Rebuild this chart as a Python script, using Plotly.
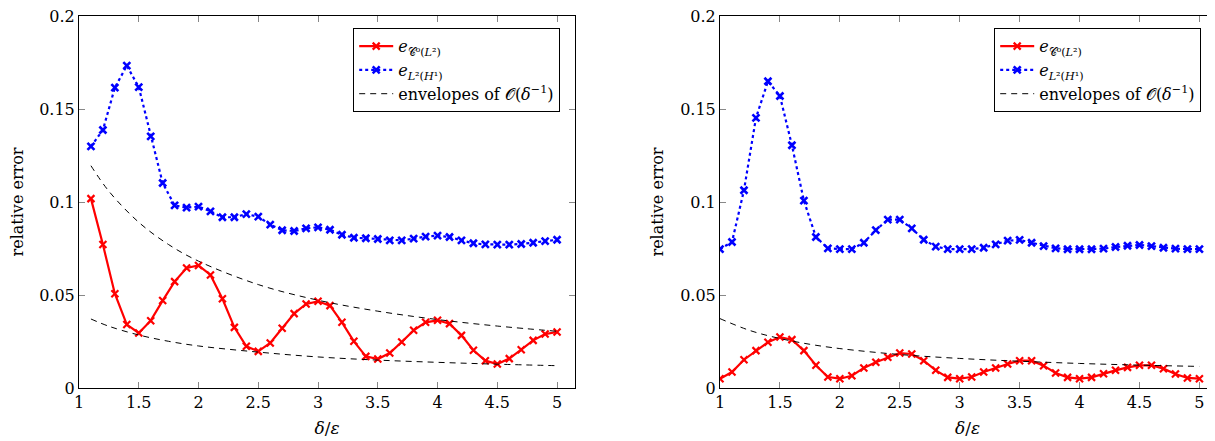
import plotly.graph_objects as go

# ---------------- data ----------------
x_left = [1.1, 1.2, 1.3, 1.4, 1.5, 1.6, 1.7, 1.8, 1.9, 2.0,
          2.1, 2.2, 2.3, 2.4, 2.5, 2.6, 2.7, 2.8, 2.9, 3.0,
          3.1, 3.2, 3.3, 3.4, 3.5, 3.6, 3.7, 3.8, 3.9, 4.0,
          4.1, 4.2, 4.3, 4.4, 4.5, 4.6, 4.7, 4.8, 4.9, 5.0]
left_c0l2 = [0.1018, 0.0771, 0.0507, 0.0341, 0.0296, 0.0362, 0.0470, 0.0572, 0.0645, 0.0659,
             0.0608, 0.0480, 0.0326, 0.0224, 0.0197, 0.0242, 0.0321, 0.0400, 0.0452, 0.0466,
             0.0443, 0.0353, 0.0251, 0.0170, 0.0156, 0.0188, 0.0247, 0.0310, 0.0353, 0.0364,
             0.0346, 0.0283, 0.0203, 0.0147, 0.0129, 0.0158, 0.0206, 0.0256, 0.0290, 0.0301]
left_l2h1 = [0.1299, 0.1387, 0.1615, 0.1733, 0.1618, 0.1353, 0.1102, 0.0982, 0.0970, 0.0975,
             0.0950, 0.0918, 0.0918, 0.0935, 0.0921, 0.0878, 0.0848, 0.0844, 0.0858, 0.0864,
             0.0851, 0.0824, 0.0808, 0.0805, 0.0801, 0.0794, 0.0794, 0.0803, 0.0814, 0.0819,
             0.0812, 0.0794, 0.0778, 0.0772, 0.0771, 0.0771, 0.0774, 0.0781, 0.0790, 0.0797]

env_x_left = [1.1, 1.25, 1.5, 1.75, 2.0, 2.5, 3.0, 3.5, 4.0, 4.5, 5.0]
env_left_upper = [0.1195, 0.1058, 0.0891, 0.0771, 0.0682, 0.0556, 0.0472, 0.0413, 0.0368, 0.0333, 0.0305]
env_left_lower = [0.0371, 0.0332, 0.0285, 0.0251, 0.0226, 0.0193, 0.0167, 0.0150, 0.0138, 0.0128, 0.0120]

x_right = [1.0, 1.1, 1.2, 1.3, 1.4, 1.5, 1.6, 1.7, 1.8, 1.9, 2.0,
           2.1, 2.2, 2.3, 2.4, 2.5, 2.6, 2.7, 2.8, 2.9, 3.0,
           3.1, 3.2, 3.3, 3.4, 3.5, 3.6, 3.7, 3.8, 3.9, 4.0,
           4.1, 4.2, 4.3, 4.4, 4.5, 4.6, 4.7, 4.8, 4.9, 5.0]
right_c0l2 = [0.0050, 0.0086, 0.0152, 0.0201, 0.0246, 0.0274, 0.0260, 0.0201, 0.0122, 0.0059, 0.0050,
              0.0066, 0.0108, 0.0138, 0.0165, 0.0188, 0.0183, 0.0147, 0.0095, 0.0057, 0.0050,
              0.0059, 0.0086, 0.0108, 0.0129, 0.0147, 0.0147, 0.0120, 0.0081, 0.0057, 0.0050,
              0.0057, 0.0077, 0.0095, 0.0111, 0.0122, 0.0122, 0.0104, 0.0075, 0.0054, 0.0050]
right_l2h1 = [0.0747, 0.0785, 0.1063, 0.1452, 0.1649, 0.1570, 0.1305, 0.1007, 0.0812, 0.0751, 0.0747,
              0.0747, 0.0781, 0.0849, 0.0905, 0.0905, 0.0858, 0.0797, 0.0760, 0.0747, 0.0747,
              0.0747, 0.0754, 0.0772, 0.0792, 0.0796, 0.0781, 0.0763, 0.0751, 0.0746, 0.0746,
              0.0746, 0.0749, 0.0758, 0.0765, 0.0769, 0.0763, 0.0754, 0.0749, 0.0747, 0.0747]

env_x_right = [1.0, 1.25, 1.5, 1.75, 2.0, 2.5, 3.0, 3.5, 4.0, 4.5, 5.0]
env_right = [0.0373, 0.0309, 0.0266, 0.0235, 0.0212, 0.0180, 0.0159, 0.0144, 0.0132, 0.0123, 0.0116]

y_ticks = [0, 0.05, 0.1, 0.15, 0.2]
y_tick_text = ["0", "0.05", "0.1", "0.15", "0.2"]
x_ticks = [1, 1.5, 2, 2.5, 3, 3.5, 4, 4.5, 5]
x_tick_text = ["1", "1.5", "2", "2.5", "3", "3.5", "4", "4.5", "5"]

name_c0 = "<i>e</i><sub>𝒞⁰(<i>L</i>²)</sub>"
name_l2 = "<i>e</i><sub><i>L</i>²(<i>H</i>¹)</sub>"
name_env = "envelopes of 𝒪(<i>δ</i><sup>−1</sup>)"

FONT = "DejaVu Serif"
RED = "#ff0000"
BLUE = "#0000ff"

# figure is placed by the page with an 8px body margin
W, H = 1207, 433
OFF = 8

def px_x(p):
    return (p - OFF) / W

def px_y(p):
    return (H - (p - OFF)) / H

fig = go.Figure()

def add_panel(xs, c0, l2, envs, env_x, xa, ya, legend):
    fig.add_trace(go.Scatter(x=xs, y=c0, mode="lines+markers", name=name_c0,
                             line=dict(color=RED, width=2.2),
                             marker=dict(symbol="x-thin", size=7, line=dict(color=RED, width=2.2)),
                             xaxis=xa, yaxis=ya, legend=legend))
    fig.add_trace(go.Scatter(x=xs, y=l2, mode="lines+markers", name=name_l2,
                             line=dict(color=BLUE, width=2.2, dash="dot"),
                             marker=dict(symbol="x-thin", size=7, line=dict(color=BLUE, width=2.6)),
                             xaxis=xa, yaxis=ya, legend=legend))
    for i, e in enumerate(envs):
        fig.add_trace(go.Scatter(x=env_x, y=e, mode="lines", name=name_env,
                                 line=dict(color="black", width=1, dash="6px,5px", shape="spline"),
                                 showlegend=(i == 0), xaxis=xa, yaxis=ya, legend=legend))

add_panel(x_left, left_c0l2, left_l2h1, [env_left_upper, env_left_lower], env_x_left, "x", "y", "legend")
add_panel(x_right, right_c0l2, right_l2h1, [env_right], env_x_right, "x2", "y2", "legend2")

axis_common = dict(showline=True, linecolor="black", linewidth=1, mirror="allticks",
                   ticks="inside", ticklen=6, tickcolor="#888888", tickwidth=1,
                   showgrid=False, zeroline=False, automargin=False,
                   ticklabeloverflow="allow",
                   tickfont=dict(family=FONT, size=16, color="black"))

ydom = [px_y(388), px_y(16)]
xt = dict(text="<i>δ</i>/<i>ε</i>", standoff=10, font=dict(family=FONT, size=17))
yt = dict(text="relative error", standoff=12, font=dict(family=FONT, size=16))
leg_common = dict(xanchor="right", yanchor="top", y=px_y(28),
                  bgcolor="white", bordercolor="black", borderwidth=1.2,
                  font=dict(family=FONT, size=16), itemwidth=34, tracegroupgap=0)

fig.update_layout(
    width=W, height=H,
    margin=dict(l=0, r=0, t=0, b=0, autoexpand=False),
    paper_bgcolor="white", plot_bgcolor="white",
    font=dict(family=FONT, size=16, color="black"),
    xaxis=dict(domain=[px_x(79), px_x(575)], range=[1, 5.15], tickvals=x_ticks, ticktext=x_tick_text,
               anchor="y", title=xt, **axis_common),
    yaxis=dict(domain=ydom, range=[0, 0.2], tickvals=y_ticks, ticktext=y_tick_text, anchor="x",
               title=yt, **axis_common),
    xaxis2=dict(domain=[px_x(720), 1.0], range=[1, 5.13], tickvals=x_ticks, ticktext=x_tick_text,
                anchor="y2", title=xt, **axis_common),
    yaxis2=dict(domain=ydom, range=[0, 0.2], tickvals=y_ticks, ticktext=y_tick_text, anchor="x2",
                title=yt, **axis_common),
    legend=dict(x=px_x(560), **leg_common),
    legend2=dict(x=px_x(1201), **leg_common),
)

fig.write_html("out.html")
